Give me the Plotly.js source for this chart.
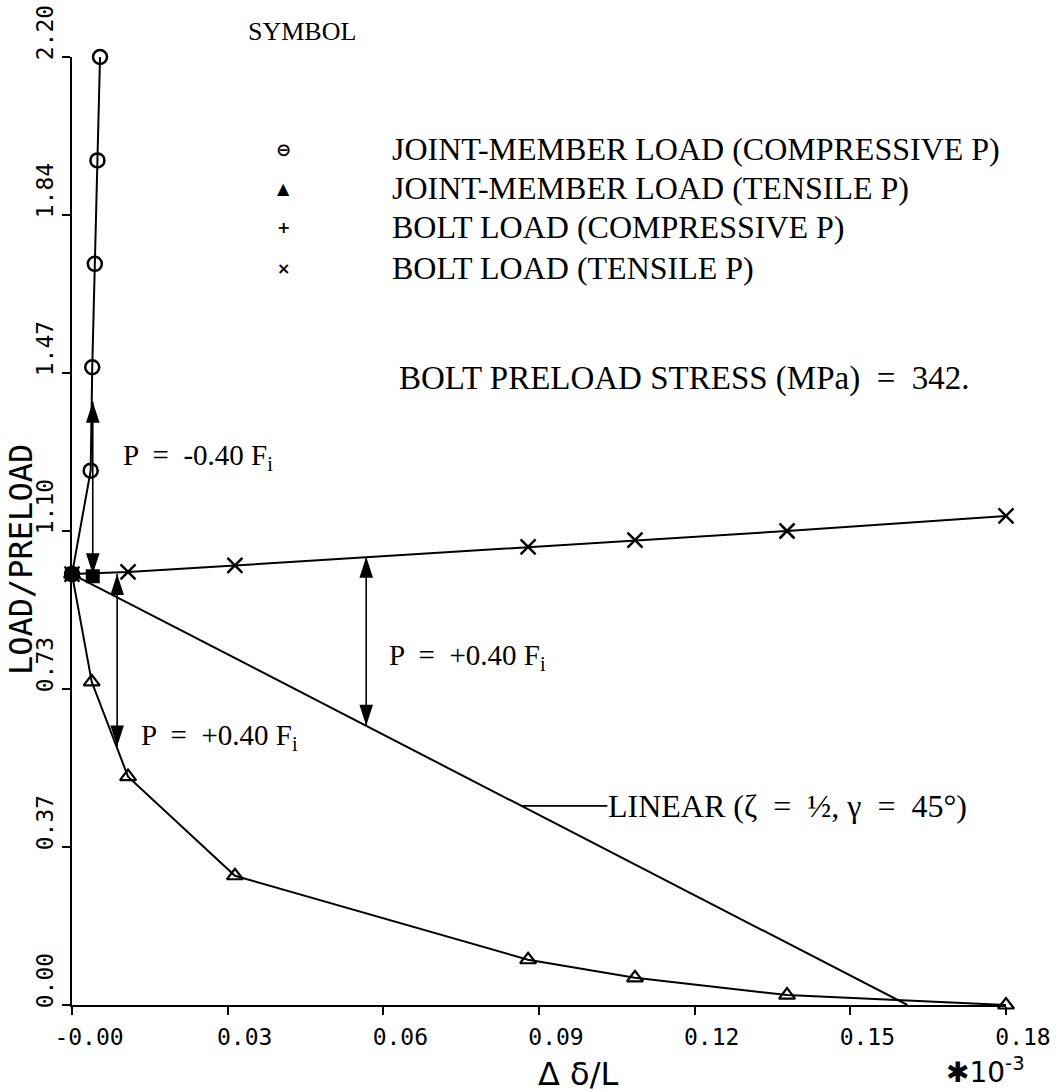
<!DOCTYPE html>
<html>
<head>
<meta charset="utf-8">
<script src="https://cdn.plot.ly/plotly-3.0.1.min.js"></script>
<style>html,body{margin:0;padding:0;background:#fff;}#chart{width:1063px;height:1092px;}</style>
</head>
<body>
<div id="chart"></div>
<script>
// ---- data ----
const jointCompX = [0, 0.0036, 0.0039, 0.0044, 0.0049, 0.0054];
const jointCompY = [1.00, 1.24, 1.48, 1.72, 1.96, 2.20];

const jointTensX = [0, 0.0038, 0.0108, 0.0314, 0.0879, 0.1085, 0.1378, 0.18];
const jointTensY = [1.00, 0.75, 0.53, 0.30, 0.105, 0.063, 0.023, 0.00];

const boltCompX = [0, 0.0040];
const boltCompY = [1.00, 0.995];

const boltTensX = [0, 0.0108, 0.0314, 0.0879, 0.1085, 0.1378, 0.18];
const boltTensY = [1.00, 1.005, 1.02, 1.063, 1.079, 1.10, 1.135];

const linearX = [0, 0.161];
const linearY = [1.00, 0.00];

// double arrows: x position, start y, end y
const arrowX = [0.0040, 0.0567, 0.0087];
const arrowY0 = [1.00, 1.04, 1.00];
const arrowY1 = [1.40, 0.648, 0.60];

const xTickVals = [0, 0.03, 0.06, 0.09, 0.12, 0.15, 0.18];
const xTickText = ["-0.00", "0.03", "0.06", "0.09", "0.12", "0.15", "0.18"];
const yTickVals = [0, 0.36667, 0.73333, 1.1, 1.46667, 1.83333, 2.2];
const yTickText = ["0.00", "0.37", "0.73", "1.10", "1.47", "1.84", "2.20"];

const legendSymbols = ["\u2296", "\u25B2", "+", "\u00D7"];
const legendLabels = [
  "JOINT-MEMBER LOAD (COMPRESSIVE P)",
  "JOINT-MEMBER LOAD (TENSILE P)",
  "BOLT LOAD (COMPRESSIVE P)",
  "BOLT LOAD (TENSILE P)"
];

// ---- layout helpers (pixel -> paper) ----
const L = 72, R = 1006, T = 57, B = 1005;
const px = v => (v - L) / (R - L);
const py = v => (B - v) / (B - T);

const serifFam = "Liberation Serif, Times New Roman, serif";
const serif = {family: serifFam, size: 32, color: "#000"};
const mono = {family: "DejaVu Sans Mono, monospace", size: 23, color: "#000"};

const lineStyle = {color: "#000", width: 2};

const traces = [
  {x: linearX, y: linearY, mode: "lines", line: lineStyle, cliponaxis: false, showlegend: false},
  {x: boltTensX, y: boltTensY, mode: "lines+markers", line: lineStyle,
   marker: {symbol: "x-thin-open", size: 15, line: {width: 2.5, color: "#000"}, color: "#000"},
   cliponaxis: false, showlegend: false},
  {x: jointTensX, y: jointTensY, mode: "lines+markers", line: lineStyle,
   marker: {symbol: "triangle-up-open", size: 14, line: {width: 2.2, color: "#000"}, color: "#000"},
   cliponaxis: false, showlegend: false},
  {x: jointCompX, y: jointCompY, mode: "lines+markers", line: lineStyle,
   marker: {symbol: "circle-open", size: 14, line: {width: 2.5, color: "#000"}, color: "#000"},
   cliponaxis: false, showlegend: false},
  {x: boltCompX, y: boltCompY, mode: "markers",
   marker: {symbol: "square", size: 14, color: "#000"},
   cliponaxis: false, showlegend: false}
];

// double-headed arrows drawn as traces with arrow markers at both ends
for (let i = 0; i < arrowX.length; i++) {
  const ys = [arrowY0[i], arrowY1[i]];
  const angles = ys.map(v => (v === Math.max(...ys) ? 0 : 180));
  traces.push({
    x: [arrowX[i], arrowX[i]], y: ys, mode: "lines+markers",
    line: {color: "#000", width: 1.6},
    marker: {symbol: "arrow", size: 22, angle: angles, color: "#000", line: {width: 0}},
    cliponaxis: false, showlegend: false
  });
}

const annotations = [];
// legend
annotations.push({x: px(246), y: py(32), xref: "paper", yref: "paper", xanchor: "left", yanchor: "middle",
  text: "SYMBOL", showarrow: false, font: {family: serifFam, size: 26, color: "#000"}});
for (let i = 0; i < legendLabels.length; i++) {
  const rowY = [149, 188, 227, 268][i];
  annotations.push({x: px(283), y: py(rowY), xref: "paper", yref: "paper", xanchor: "center", yanchor: "middle",
    text: "<b>" + legendSymbols[i] + "</b>", showarrow: false,
    font: {family: "DejaVu Sans, sans-serif", size: i === 0 ? 18 : 16, color: "#000"}});
  annotations.push({x: px(390), y: py(rowY), xref: "paper", yref: "paper", xanchor: "left", yanchor: "middle",
    text: legendLabels[i], showarrow: false, font: serif});
}
annotations.push({x: px(397), y: py(378), xref: "paper", yref: "paper", xanchor: "left", yanchor: "middle",
  text: "BOLT PRELOAD STRESS (MPa)  =  342.", showarrow: false, font: {family: serifFam, size: 33, color: "#000"}});
annotations.push({x: px(121), y: py(457), xref: "paper", yref: "paper", xanchor: "left", yanchor: "middle",
  text: "P  =  -0.40 F<sub>i</sub>", showarrow: false, font: {family: serifFam, size: 29, color: "#000"}});
annotations.push({x: px(387), y: py(657), xref: "paper", yref: "paper", xanchor: "left", yanchor: "middle",
  text: "P  =  +0.40 F<sub>i</sub>", showarrow: false, font: {family: serifFam, size: 29, color: "#000"}});
annotations.push({x: px(139), y: py(737), xref: "paper", yref: "paper", xanchor: "left", yanchor: "middle",
  text: "P  =  +0.40 F<sub>i</sub>", showarrow: false, font: {family: serifFam, size: 29, color: "#000"}});
// LINEAR label with leader line
annotations.push({x: 0.0866, y: 0.462, xref: "x", yref: "y", ax: 86, ay: 0,
  xanchor: "left", yanchor: "middle",
  text: "LINEAR (\u03B6  =  \u00BD, \u03B3  =  45\u00B0)", showarrow: true, arrowhead: 0,
  arrowwidth: 1.6, arrowcolor: "#000", font: serif, standoff: 0, borderpad: 0});
// axis titles
annotations.push({x: px(21), y: py(560), xref: "paper", yref: "paper", xanchor: "center", yanchor: "middle",
  text: "LOAD/PRELOAD", textangle: -90, showarrow: false,
  font: {family: "DejaVu Sans Mono, monospace", size: 32, color: "#000"}});
annotations.push({x: px(578), y: py(1074), xref: "paper", yref: "paper", xanchor: "center", yanchor: "middle",
  text: "\u0394 \u03B4/L", showarrow: false,
  font: {family: "DejaVu Sans, sans-serif", size: 32, color: "#000"}});
annotations.push({x: px(985), y: py(1070), xref: "paper", yref: "paper", xanchor: "center", yanchor: "middle",
  text: "\u273110<sup>-3</sup>", showarrow: false,
  font: {family: "DejaVu Sans, sans-serif", size: 28, color: "#000"}});

const layout = {
  width: 1063, height: 1092,
  margin: {l: L, r: 1063 - R, t: T, b: 1092 - B, pad: 0},
  paper_bgcolor: "#fff", plot_bgcolor: "#fff",
  showlegend: false,
  xaxis: {
    range: [0, 0.18], showgrid: false, zeroline: false,
    showline: true, linecolor: "#000", linewidth: 2,
    ticks: "outside", ticklen: 8, tickwidth: 2, tickcolor: "#000",
    tickmode: "array", tickvals: xTickVals, ticktext: xTickText,
    tickfont: mono, ticklabelshift: 17, ticklabelstandoff: 2
  },
  yaxis: {
    range: [0, 2.2], showgrid: false, zeroline: false,
    showline: true, linecolor: "#000", linewidth: 2,
    ticks: "outside", ticklen: 8, tickwidth: 2, tickcolor: "#000",
    tickmode: "array", tickvals: yTickVals, ticktext: yTickText,
    tickfont: mono, tickangle: -90, ticklabelshift: -21, ticklabelstandoff: 0
  },
  annotations: annotations
};

Plotly.newPlot("chart", traces, layout, {displayModeBar: false, staticPlot: true});
</script>
</body>
</html>
